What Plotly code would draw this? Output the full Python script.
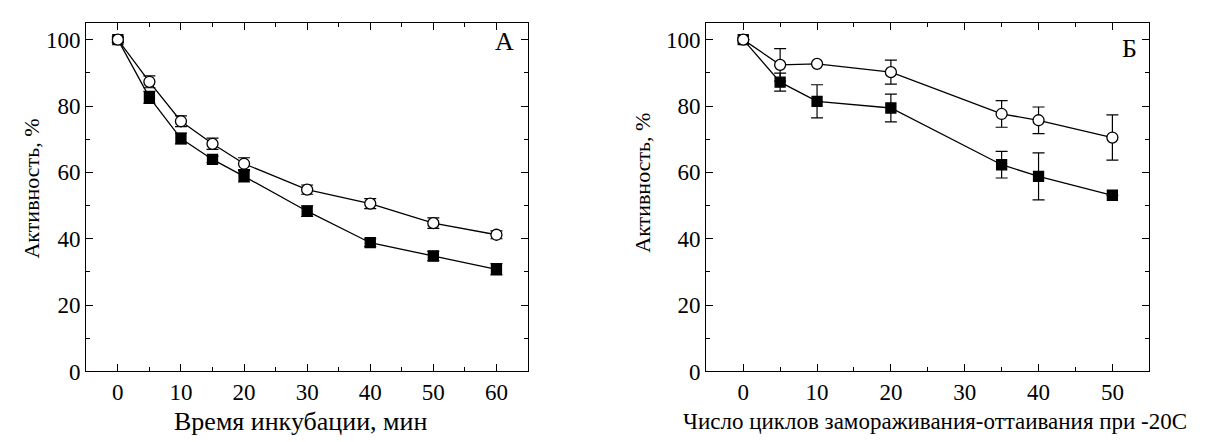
import plotly.graph_objects as go

# Panel A data
a_x = [0, 5, 10, 15, 20, 30, 40, 50, 60]
a_circ = [100, 87.3, 75.4, 68.6, 62.6, 54.8, 50.6, 44.7, 41.2]
a_circ_err = [0.8, 1.8, 1.6, 1.7, 1.8, 1.4, 1.5, 1.6, 1.2]
a_sq = [100, 82.6, 70.2, 63.9, 58.8, 48.3, 38.8, 34.8, 30.8]
a_sq_err = [0.8, 1.8, 1.6, 1.0, 1.7, 1.6, 1.2, 1.4, 1.7]

# Panel B data
b_x = [0, 5, 10, 20, 35, 40, 50]
b_circ = [100, 92.4, 92.7, 90.2, 77.6, 75.7, 70.5]
b_circ_err = [0, 4.9, 0, 3.6, 4.0, 4.0, 6.8]
b_sq = [100, 87.2, 81.4, 79.4, 62.3, 58.8, 53.1]
b_sq_err = [0, 2.7, 5.0, 4.2, 4.0, 7.1, 0]

a_xticks = [0, 10, 20, 30, 40, 50, 60]
b_xticks = [0, 10, 20, 30, 40, 50]
yticks = [0, 20, 40, 60, 80, 100]

FONT = "Liberation Serif"
W, H = 1210, 442

fig = go.Figure()

def add_series(x, y, err, xa, ya, symbol, fill, size):
    fig.add_trace(go.Scatter(
        x=x, y=y, xaxis=xa, yaxis=ya, mode="lines+markers",
        line=dict(color="black", width=1.3),
        marker=dict(symbol=symbol, size=size, color=fill,
                    line=dict(color="black", width=1.3)),
        error_y=dict(type="data", array=err, visible=True,
                     color="black", thickness=1.2, width=6),
        showlegend=False, cliponaxis=False))

add_series(a_x, a_sq, a_sq_err, "x", "y", "square", "black", 10)
add_series(a_x, a_circ, a_circ_err, "x", "y", "circle", "white", 11)
add_series(b_x, b_sq, b_sq_err, "x2", "y2", "square", "black", 10)
add_series(b_x, b_circ, b_circ_err, "x2", "y2", "circle", "white", 11)

def px_x(p):
    return p / W

def px_y(p):
    return 1 - p / H

axis_common = dict(showline=True, linecolor="black", linewidth=1.3,
                   mirror="ticks", ticks="inside", ticklen=7, tickwidth=1.2,
                   tickcolor="black", showgrid=False, zeroline=False,
                   tickfont=dict(family=FONT, size=23, color="black"),
                   minor=dict(ticks="inside", ticklen=4, tickwidth=1.2,
                              tickcolor="black", showgrid=False))

ydom = [px_y(374.5), px_y(15.5)]

fig.update_layout(
    width=W, height=H,
    margin=dict(l=0, r=0, t=0, b=0),
    paper_bgcolor="white", plot_bgcolor="white",
    font=dict(family=FONT, color="black"),
    xaxis=dict(domain=[px_x(78.3), px_x(520)], range=[-5, 65],
               tickvals=a_xticks, anchor="y",
               minor_tickvals=[5, 15, 25, 35, 45, 55], **axis_common),
    yaxis=dict(domain=ydom, range=[0, 105], tickvals=yticks, anchor="x",
               minor_tickvals=[10, 30, 50, 70, 90], **axis_common),
    xaxis2=dict(domain=[px_x(698.3), px_x(1141.3)], range=[-5, 55],
                tickvals=b_xticks, anchor="y2",
                minor_tickvals=[5, 15, 25, 35, 45], **axis_common),
    yaxis2=dict(domain=ydom, range=[0, 105], tickvals=yticks, anchor="x2",
                minor_tickvals=[10, 30, 50, 70, 90], **axis_common),
)

def fnt(s):
    return dict(family=FONT, size=s, color="black")

annotations = [
    dict(text="Время инкубации, мин", x=px_x(292), y=px_y(426), xref="paper", yref="paper",
         showarrow=False, font=fnt(26), xanchor="center", yanchor="middle"),
    dict(text="Число циклов замораживания-оттаивания при -20С", x=px_x(927), y=px_y(426),
         xref="paper", yref="paper", showarrow=False, font=fnt(23),
         xanchor="center", yanchor="middle"),
    dict(text="Активность, %", x=px_x(24), y=px_y(186), xref="paper", yref="paper",
         showarrow=False, font=fnt(22), textangle=-90, xanchor="center", yanchor="middle"),
    dict(text="Активность, %", x=px_x(635), y=px_y(180), xref="paper", yref="paper",
         showarrow=False, font=fnt(22), textangle=-90, xanchor="center", yanchor="middle"),
    dict(text="А", x=px_x(497), y=px_y(35), xref="paper", yref="paper",
         showarrow=False, font=fnt(26), xanchor="center", yanchor="middle"),
    dict(text="Б", x=px_x(1121), y=px_y(42), xref="paper", yref="paper",
         showarrow=False, font=fnt(26), xanchor="center", yanchor="middle"),
]
fig.update_layout(annotations=annotations)

fig.write_html("out.html")
